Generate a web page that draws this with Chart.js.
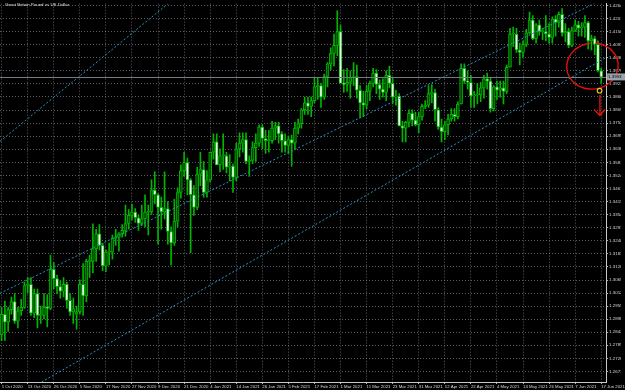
<!DOCTYPE html>
<html>
<head>
<meta charset="utf-8">
<script src="https://cdn.jsdelivr.net/npm/chart.js@4.4.1/dist/chart.umd.min.js"></script>
<style>
  html, body { margin: 0; padding: 0; background: #000; }
  #wrap { width: 625px; height: 390px; position: relative; }
</style>
</head>
<body>
<div id="wrap"><canvas id="chart"></canvas></div>
<script>
Chart.defaults.animation = false;

// ---- data (daily candles, GBPUSD) ----
const chartTitle = "Great Britain Pound vs US Dollar";

const dateLabels = ["1 Oct 2020", "13 Oct 2020", "26 Oct 2020", "5 Nov 2020", "17 Nov 2020", "27 Nov 2020",
  "9 Dec 2020", "21 Dec 2020", "4 Jan 2021", "14 Jan 2021", "26 Jan 2021", "5 Feb 2021", "17 Feb 2021",
  "1 Mar 2021", "11 Mar 2021", "23 Mar 2021", "31 Mar 2021", "12 Apr 2021", "22 Apr 2021", "4 May 2021",
  "14 May 2021", "26 May 2021", "7 Jun 2021", "17 Jun 2021"];

const priceTicks = [1.4264, 1.4207, 1.4150, 1.4093, 1.4036, 1.3979, 1.3923, 1.3866, 1.3809, 1.3752,
  1.3695, 1.3638, 1.3581, 1.3524, 1.3467, 1.3411, 1.3354, 1.3297, 1.3240, 1.3183, 1.3126, 1.3069,
  1.3012, 1.2955, 1.2898, 1.2842, 1.2785, 1.2728, 1.2671];

const opens = [
  1.2830,1.2920,1.2885,1.2940,1.2975,1.2890,1.2935,1.2950,1.3045,1.3050,
  1.2925,1.3010,1.2915,1.2915,1.2950,1.2945,1.3115,1.3075,1.3040,1.3020,
  1.3050,1.2980,1.2930,1.2920,1.2930,1.3050,1.3000,1.3150,1.3150,1.3205,
  1.3270,1.3220,1.3130,1.3190,1.3190,1.3250,1.3255,1.3270,1.3285,1.3315,
  1.3350,1.3365,1.3340,1.3315,1.3335,1.3365,1.3365,1.3460,1.3440,1.3385,
  1.3365,1.3380,1.3280,1.3230,1.3325,1.3450,1.3545,1.3580,1.3505,1.3440,
  1.3385,1.3530,1.3550,1.3450,1.3505,1.3625,1.3670,1.3570,1.3610,1.3610,
  1.3560,1.3565,1.3515,1.3640,1.3665,1.3680,1.3585,1.3590,1.3645,1.3665,
  1.3735,1.3685,1.3675,1.3675,1.3730,1.3740,1.3705,1.3675,1.3655,1.3680,
  1.3665,1.3730,1.3750,1.3810,1.3840,1.3825,1.3850,1.3910,1.3915,1.3865,
  1.3955,1.4010,1.4055,1.4090,1.4150,1.3925,1.3920,1.3930,1.3950,1.3955,
  1.3895,1.3840,1.3830,1.3890,1.3925,1.3970,1.3920,1.3900,1.3885,1.3960,
  1.3925,1.3865,1.3870,1.3740,1.3730,1.3755,1.3795,1.3765,1.3745,1.3780,
  1.3825,1.3830,1.3880,1.3885,1.3810,1.3735,1.3715,1.3745,1.3770,1.3790,
  1.3780,1.3835,1.3990,1.3935,1.3930,1.3870,1.3875,1.3875,1.3905,1.3945,
  1.3935,1.3815,1.3910,1.3895,1.3905,1.3890,1.3995,1.4140,1.4140,1.4070,
  1.4060,1.4095,1.4145,1.4200,1.4120,1.4180,1.4150,1.4150,1.4140,1.4125,
  1.4205,1.4190,1.4225,1.4145,1.4150,1.4090,1.4155,1.4180,1.4165,1.4170,
  1.4190,1.4110,1.4120,1.4095,1.3980];

const highs = [
  1.2950,1.2977,1.2950,1.2995,1.3010,1.2950,1.2985,1.3060,1.3080,1.3080,
  1.3030,1.3030,1.2955,1.3010,1.3005,1.3177,1.3145,1.3090,1.3065,1.3080,
  1.3060,1.3010,1.2990,1.2955,1.3070,1.3140,1.3160,1.3177,1.3314,1.3290,
  1.3310,1.3230,1.3200,1.3230,1.3265,1.3290,1.3275,1.3310,1.3395,1.3375,
  1.3400,1.3380,1.3350,1.3395,1.3440,1.3395,1.3505,1.3540,1.3445,1.3430,
  1.3540,1.3410,1.3300,1.3420,1.3470,1.3570,1.3625,1.3600,1.3510,1.3480,
  1.3560,1.3625,1.3585,1.3545,1.3620,1.3705,1.3705,1.3640,1.3705,1.3625,
  1.3615,1.3575,1.3665,1.3710,1.3710,1.3710,1.3610,1.3670,1.3705,1.3745,
  1.3745,1.3720,1.3720,1.3760,1.3755,1.3755,1.3715,1.3705,1.3695,1.3700,
  1.3755,1.3770,1.3815,1.3865,1.3865,1.3865,1.3950,1.3950,1.3925,1.3965,
  1.4015,1.4080,1.4140,1.4241,1.4180,1.3985,1.3990,1.3980,1.4015,1.4005,
  1.3915,1.3890,1.3915,1.3935,1.3990,1.3985,1.3940,1.3945,1.3980,1.4000,
  1.3950,1.3895,1.3880,1.3760,1.3760,1.3810,1.3810,1.3800,1.3800,1.3835,
  1.3850,1.3915,1.3920,1.3900,1.3820,1.3770,1.3760,1.3790,1.3815,1.3815,
  1.3845,1.4010,1.4010,1.3980,1.3960,1.3890,1.3925,1.3930,1.3960,1.3970,
  1.3950,1.3915,1.3935,1.3935,1.3935,1.4005,1.4165,1.4170,1.4165,1.4100,
  1.4110,1.4160,1.4235,1.4220,1.4185,1.4200,1.4165,1.4220,1.4185,1.4215,
  1.4220,1.4235,1.4250,1.4185,1.4165,1.4170,1.4200,1.4195,1.4190,1.4220,
  1.4195,1.4135,1.4130,1.4110,1.3990];

const lows = [
  1.2805,1.2806,1.2845,1.2920,1.2880,1.2860,1.2915,1.2945,1.3015,1.2915,
  1.2905,1.2860,1.2880,1.2900,1.2865,1.2940,1.3030,1.3010,1.2990,1.2995,
  1.2945,1.2915,1.2880,1.2855,1.2920,1.2915,1.2975,1.3080,1.3100,1.3150,
  1.3200,1.3110,1.3105,1.3135,1.3160,1.3220,1.3195,1.3255,1.3260,1.3290,
  1.3330,1.3320,1.3285,1.3305,1.3300,1.3265,1.3355,1.3400,1.3225,1.3290,
  1.3335,1.3225,1.3134,1.3220,1.3300,1.3425,1.3520,1.3440,1.3188,1.3350,
  1.3375,1.3480,1.3430,1.3430,1.3495,1.3595,1.3570,1.3540,1.3550,1.3535,
  1.3500,1.3450,1.3500,1.3605,1.3625,1.3575,1.3520,1.3575,1.3585,1.3650,
  1.3640,1.3620,1.3625,1.3665,1.3680,1.3665,1.3625,1.3625,1.3620,1.3565,
  1.3640,1.3705,1.3730,1.3790,1.3790,1.3780,1.3840,1.3855,1.3820,1.3855,
  1.3910,1.3985,1.4000,1.4045,1.3930,1.3885,1.3890,1.3860,1.3915,1.3860,
  1.3775,1.3780,1.3815,1.3850,1.3910,1.3880,1.3855,1.3865,1.3850,1.3905,
  1.3835,1.3830,1.3740,1.3670,1.3670,1.3735,1.3740,1.3740,1.3710,1.3765,
  1.3815,1.3820,1.3840,1.3760,1.3725,1.3670,1.3680,1.3700,1.3760,1.3760,
  1.3770,1.3835,1.3925,1.3900,1.3820,1.3820,1.3835,1.3845,1.3860,1.3900,
  1.3800,1.3805,1.3855,1.3865,1.3835,1.3880,1.3995,1.4085,1.4060,1.4005,
  1.4040,1.4085,1.4140,1.4115,1.4100,1.4135,1.4115,1.4110,1.4100,1.4100,
  1.4130,1.4170,1.4130,1.4105,1.4080,1.4085,1.4150,1.4130,1.4130,1.4125,
  1.4075,1.4070,1.4050,1.3975,1.3925];

const closes = [
  1.2920,1.2885,1.2940,1.2975,1.2890,1.2935,1.2950,1.3045,1.3050,1.2925,
  1.3010,1.2915,1.2915,1.2950,1.2945,1.3115,1.3075,1.3040,1.3020,1.3050,
  1.2980,1.2930,1.2945,1.2930,1.3050,1.3000,1.3150,1.3150,1.3205,1.3270,
  1.3220,1.3130,1.3190,1.3190,1.3250,1.3255,1.3270,1.3285,1.3315,1.3350,
  1.3365,1.3340,1.3315,1.3335,1.3365,1.3365,1.3460,1.3440,1.3385,1.3365,
  1.3380,1.3280,1.3230,1.3325,1.3450,1.3545,1.3580,1.3505,1.3440,1.3385,
  1.3530,1.3550,1.3450,1.3505,1.3625,1.3670,1.3570,1.3610,1.3610,1.3560,
  1.3565,1.3515,1.3640,1.3665,1.3680,1.3585,1.3590,1.3645,1.3665,1.3735,
  1.3685,1.3675,1.3675,1.3730,1.3740,1.3705,1.3675,1.3655,1.3680,1.3665,
  1.3730,1.3750,1.3810,1.3840,1.3825,1.3850,1.3910,1.3915,1.3865,1.3955,
  1.4010,1.4055,1.4090,1.4150,1.3925,1.3920,1.3930,1.3950,1.3955,1.3895,
  1.3840,1.3830,1.3890,1.3925,1.3970,1.3920,1.3900,1.3885,1.3960,1.3925,
  1.3865,1.3870,1.3740,1.3730,1.3755,1.3795,1.3765,1.3745,1.3780,1.3825,
  1.3830,1.3880,1.3885,1.3810,1.3735,1.3715,1.3745,1.3770,1.3790,1.3780,
  1.3835,1.3990,1.3935,1.3930,1.3870,1.3875,1.3875,1.3905,1.3945,1.3935,
  1.3815,1.3910,1.3895,1.3905,1.3890,1.3995,1.4140,1.4140,1.4070,1.4060,
  1.4095,1.4145,1.4200,1.4120,1.4180,1.4150,1.4150,1.4140,1.4125,1.4205,
  1.4190,1.4225,1.4145,1.4150,1.4090,1.4155,1.4180,1.4165,1.4170,1.4190,
  1.4110,1.4120,1.4095,1.3980,1.3953];

// trend channel drawn on the chart: [bar index, price] pairs
const channelLines = [
  [[-0.8, 1.3669], [51.1, 1.4272]],
  [[-0.8, 1.3009], [181.8, 1.4272]],
  [[31.9, 1.2785], [129.6, 1.3582]]
];

// ---- chart ----
const barCount = opens.length;
const categories = Array.from({ length: barCount + 1 }, (_, i) => i);
const bidPrice = closes[barCount - 1];
const candleGreen = "#00b400";

const overlayPlugin = {
  id: "overlay",
  afterDatasetsDraw(chart) {
    const { ctx, chartArea: a, scales: { x, y } } = chart;
    ctx.save();
    ctx.beginPath();
    ctx.rect(a.left, a.top, a.right - a.left, a.bottom - a.top);
    ctx.clip();

    // channel lines, extended across the plot
    ctx.strokeStyle = "#2a8fbf";
    ctx.lineWidth = 1;
    ctx.setLineDash([2, 2]);
    channelLines.forEach(([p0, p1]) => {
      const x0 = x.getPixelForValue(p0[0]), y0 = y.getPixelForValue(p0[1]);
      const x1 = x.getPixelForValue(p1[0]), y1 = y.getPixelForValue(p1[1]);
      const k = (y1 - y0) / (x1 - x0);
      ctx.beginPath();
      ctx.moveTo(a.left, y0 + k * (a.left - x0));
      ctx.lineTo(a.right, y0 + k * (a.right - x0));
      ctx.stroke();
    });
    ctx.setLineDash([]);

    // bid line
    const by = Math.round(y.getPixelForValue(bidPrice)) + 0.5;
    ctx.strokeStyle = "#737b84";
    ctx.beginPath();
    ctx.moveTo(a.left, by);
    ctx.lineTo(a.right, by);
    ctx.stroke();
    ctx.restore();

    // hand drawn mark: ellipse, small circle and arrow (may cross the axis)
    ctx.save();
    const cx = x.getPixelForValue(181.3), cy = y.getPixelForValue(1.4000);
    const rx = x.getPixelForValue(189.2) - cx, ry = y.getPixelForValue(1.3900) - cy;
    ctx.strokeStyle = "#e01010";
    ctx.lineWidth = 1.4;
    ctx.beginPath();
    ctx.ellipse(cx, cy, rx, ry, -0.12, -1.35, 4.75);
    ctx.stroke();

    const ax = x.getPixelForValue(183.6);
    const ay0 = y.getPixelForValue(1.3874), ay1 = y.getPixelForValue(1.3785);
    ctx.beginPath();
    ctx.moveTo(ax, ay0);
    ctx.lineTo(ax, ay1);
    ctx.moveTo(ax - 6, ay1 - 6);
    ctx.lineTo(ax, ay1);
    ctx.lineTo(ax + 5, ay1 - 6);
    ctx.stroke();

    ctx.strokeStyle = "#e8c828";
    ctx.lineWidth = 1.1;
    ctx.beginPath();
    ctx.arc(x.getPixelForValue(183.5), y.getPixelForValue(1.3893), 2.3, 0, Math.PI * 2);
    ctx.stroke();
    ctx.restore();
  },
  afterDraw(chart) {
    const { ctx, chartArea: a, scales: { y } } = chart;
    ctx.save();
    ctx.font = "4.4px 'Liberation Sans'";
    ctx.fillStyle = "#e0e0e0";
    ctx.textBaseline = "middle";
    ctx.fillText(chartTitle, 5, 5);

    // bid price box on the axis
    const by = y.getPixelForValue(bidPrice);
    ctx.fillStyle = "#9aa1a8";
    ctx.fillRect(a.right + 1, by - 3.5, 625 - a.right, 7);
    ctx.fillStyle = "#000";
    ctx.fillText(bidPrice.toFixed(4), a.right + 2, by);
    ctx.restore();
  }
};

new Chart(document.getElementById("chart"), {
  type: "bar",
  data: {
    labels: categories,
    datasets: [
      {
        label: "wicks",
        data: lows.map((l, i) => [l, highs[i]]),
        backgroundColor: candleGreen,
        barThickness: 1,
        grouped: false,
        order: 1
      },
      {
        label: "bodies",
        data: opens.map((o, i) => [o, closes[i]]),
        backgroundColor: opens.map((o, i) => closes[i] >= o ? "#004800" : "#f4fff4"),
        borderColor: candleGreen,
        borderWidth: 1,
        borderSkipped: false,
        barThickness: 3,
        minBarLength: 1,
        grouped: false,
        order: 0
      }
    ]
  },
  plugins: [overlayPlugin],
  options: {
    responsive: true,
    maintainAspectRatio: false,
    animation: false,
    layout: { padding: 0 },
    plugins: { legend: { display: false }, tooltip: { enabled: false } },
    scales: {
      x: {
        type: "category",
        offset: true,
        afterBuildTicks(scale) {
          scale.ticks = scale.ticks.filter(t => t.value % 8 === 0 && t.value / 8 < dateLabels.length);
        },
        afterFit(scale) { scale.height = 8; },
        grid: { color: "rgba(150,155,165,0.6)", offset: false, tickLength: 2, tickColor: "#b0b0b0" },
        border: { color: "#c8c8c8", dash: [1, 2] },
        ticks: {
          autoSkip: false,
          maxRotation: 0,
          align: "start",
          padding: 0,
          color: "#d8d8d8",
          font: { family: "Liberation Sans", size: 4.3 },
          callback: (v) => dateLabels[v / 8]
        }
      },
      y: {
        type: "linear",
        position: "right",
        min: 1.2625,
        max: 1.4272,
        afterBuildTicks(scale) {
          scale.ticks = priceTicks.map(v => ({ value: v }));
        },
        afterFit(scale) { scale.width = 15; },
        grid: { color: "rgba(150,155,165,0.6)", tickLength: 2, tickColor: "#b0b0b0" },
        border: { color: "#c8c8c8", dash: [1, 2] },
        ticks: {
          padding: 1,
          color: "#d8d8d8",
          font: { family: "Liberation Sans", size: 4.4 },
          callback: (v) => v.toFixed(4)
        }
      }
    }
  }
});
</script>
</body>
</html>
